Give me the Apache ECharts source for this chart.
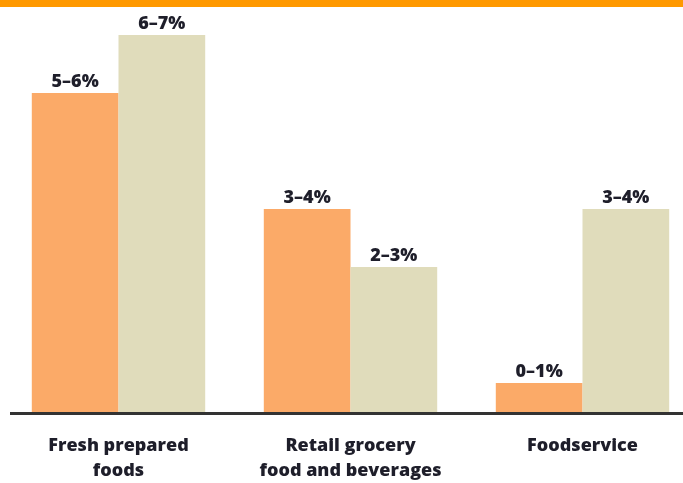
<!DOCTYPE html>
<html>
<head>
<meta charset="utf-8">
<script src="https://cdn.jsdelivr.net/npm/echarts@6/dist/echarts.min.js"></script>
<style>
  html, body { margin: 0; padding: 0; background: #fff; }
  #band { position: absolute; left: 0; top: 0; width: 683px; height: 7px; background: #FF9900; }
  #chart { width: 683px; height: 483px; }
</style>
</head>
<body>
<div id="chart"></div>
<div id="band"></div>
<script>
// Categories and the two growth series (midpoints of the labelled ranges)
const categories = ['Fresh prepared\nfoods', 'Retail grocery\nfood and beverages', 'Foodservice'];
const seriesA = [5.5, 3.5, 0.5];
const seriesB = [6.5, 2.5, 3.5];
const labelsA = ['5–6%', '3–4%', '0–1%'];
const labelsB = ['6–7%', '2–3%', '3–4%'];

const chart = echarts.init(document.getElementById('chart'));

const labelStyle = {
  show: true,
  position: 'top',
  distance: 2,
  fontFamily: 'Open Sans',
  fontWeight: 800,
  fontSize: 18,
  color: '#1e1e2a'
};

chart.setOption({
  animation: false,
  grid: { left: 2.5, top: 6, width: 696, bottom: 71, outerBoundsMode: 'none', containLabel: false },
  xAxis: {
    type: 'category',
    data: categories,
    axisLine: { show: false },
    axisTick: { show: false },
    axisLabel: {
      interval: 0,
      hideOverlap: false,
      margin: 21,
      fontFamily: 'Open Sans',
      fontWeight: 800,
      fontSize: 18,
      lineHeight: 25,
      color: '#1e1e2a'
    }
  },
  yAxis: {
    type: 'value',
    min: 0,
    max: 7,
    show: false,
    splitLine: { show: false }
  },
  series: [
    {
      type: 'bar',
      data: seriesA,
      barWidth: 86.7,
      barGap: '0%',
      itemStyle: { color: '#FBAA68' },
      label: Object.assign({}, labelStyle, {
        formatter: p => labelsA[p.dataIndex]
      })
    },
    {
      type: 'bar',
      data: seriesB,
      barWidth: 86.7,
      barGap: '0%',
      itemStyle: { color: '#E0DCBB' },
      label: Object.assign({}, labelStyle, {
        formatter: p => labelsB[p.dataIndex]
      })
    }
  ]
});

// Baseline under the bars, placed at the value axis zero
const y0 = chart.convertToPixel({ yAxisIndex: 0 }, 0);
chart.setOption({
  graphic: [{
    type: 'line',
    shape: { x1: 10, y1: y0 + 1.5, x2: 683, y2: y0 + 1.5 },
    style: { stroke: '#333', lineWidth: 3 },
    z: 10
  }]
});
</script>
</body>
</html>
